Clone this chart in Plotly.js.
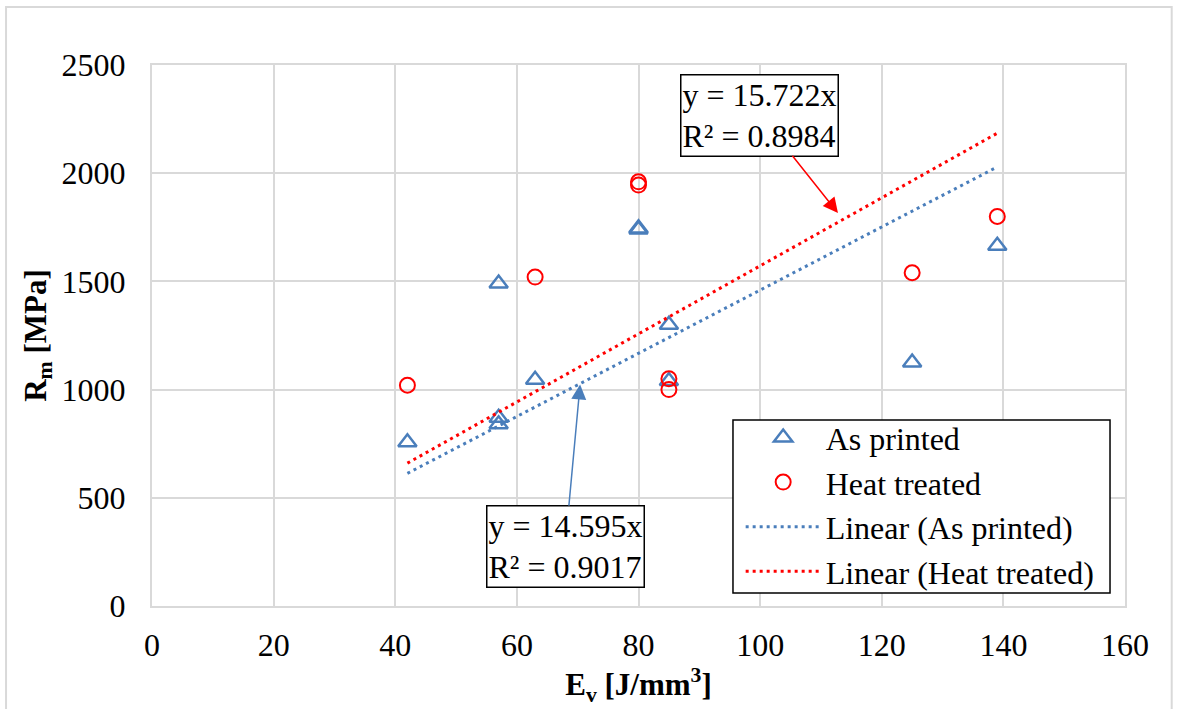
<!DOCTYPE html>
<html>
<head>
<meta charset="utf-8">
<script src="https://cdn.plot.ly/plotly-3.0.1.min.js"></script>
<style>html,body{margin:0;padding:0;background:#fff;}#chart{width:1179px;height:709px;}</style>
</head>
<body>
<div id="chart"></div>
<script>
// As printed
const apX = [42, 57, 57, 57, 63, 80, 80, 85, 85, 125, 139];
const apY = [757, 1490, 870, 840, 1045, 1745, 1740, 1300, 1040, 1125, 1665];
// Heat treated
const htX = [42, 63, 80, 80, 85, 85, 125, 139];
const htY = [1020, 1520, 1960, 1945, 1050, 1000, 1540, 1800];
// Linear trendlines (through origin), endpoints
const trendX = [42, 139];
const trendAP = [613, 2029];
const trendHT = [660, 2185];
const eqAP = 'y = 14.595x<br>R² = 0.9017';
const eqHT = 'y = 15.722x<br>R² = 0.8984';

const FONT = 'Liberation Serif, Times New Roman, serif';
const BLUE = '#4a7ebb';
const RED = '#ff0000';

const traces = [
  {x: apX, y: apY, type: 'scatter', mode: 'markers', name: 'As printed', legendgroup: 'a',
   marker: {symbol: 'triangle-up-open', size: 16, color: BLUE, line: {width: 2.5, color: BLUE}}},
  {x: htX, y: htY, type: 'scatter', mode: 'markers', name: 'Heat treated', legendgroup: 'b',
   marker: {symbol: 'circle-open', size: 15, color: RED, line: {width: 2, color: RED}}},
  {x: trendX, y: trendAP, type: 'scatter', mode: 'lines', name: 'Linear (As printed)', legendgroup: 'c',
   line: {color: BLUE, width: 3, dash: '3px,4px'}},
  {x: trendX, y: trendHT, type: 'scatter', mode: 'lines', name: 'Linear (Heat treated)', legendgroup: 'd',
   line: {color: RED, width: 3, dash: '3px,4px'}}
];

const axisCommon = {
  showgrid: true, gridcolor: '#d9d9d9', gridwidth: 2,
  zeroline: false, showline: true, linecolor: '#d9d9d9', linewidth: 2, mirror: true,
  ticks: 'outside', ticklen: 18, tickcolor: 'rgba(0,0,0,0)',
  tickfont: {family: FONT, size: 32, color: '#000'}
};

const layout = {
  width: 1179, height: 709,
  margin: {l: 152, r: 54, t: 65, b: 103},
  paper_bgcolor: '#fff', plot_bgcolor: '#fff',
  font: {family: FONT, color: '#000'},
  xaxis: Object.assign({}, axisCommon, {
    range: [0, 160], dtick: 20, tick0: 0, ticklen: 10,
    title: {text: '<b>E<sub>v</sub> [J/mm<sup>3</sup>]</b>', font: {family: FONT, size: 31, color: '#000'}, standoff: 11}
  }),
  yaxis: Object.assign({}, axisCommon, {
    range: [0, 2500], dtick: 500, tick0: 0,
    title: {text: '<b>R<sub>m</sub> [MPa]</b>', font: {family: FONT, size: 31, color: '#000'}, standoff: 6}
  }),
  showlegend: true,
  legend: {
    x: 0.605, y: 0.362, xanchor: 'left', yanchor: 'top',
    bgcolor: 'rgba(0,0,0,0)', borderwidth: 0,
    font: {family: FONT, size: 32, color: '#000'},
    tracegroupgap: 0, itemwidth: 75
  },
  annotations: [
    {x: 70.4, y: 1024, xref: 'x', yref: 'y', text: eqAP, showarrow: true,
     ax: -15, ay: 162, arrowhead: 2, arrowsize: 2, arrowwidth: 1.5, arrowcolor: BLUE,
     align: 'left', font: {family: FONT, size: 32, color: '#000'},
     bgcolor: '#fff', bordercolor: '#000', borderwidth: 1.5, borderpad: 1},
    {x: 112.8, y: 1816, xref: 'x', yref: 'y', text: eqHT, showarrow: true,
     ax: -78, ay: -98, arrowhead: 2, arrowsize: 2, arrowwidth: 1.5, arrowcolor: RED,
     align: 'left', font: {family: FONT, size: 32, color: '#000'},
     bgcolor: '#fff', bordercolor: '#000', borderwidth: 1.5, borderpad: 1}
  ],
  shapes: [
    {type: 'rect', xref: 'paper', yref: 'paper', x0: -0.150, x1: 1.048, y0: -0.2, y1: 1.107,
     line: {color: '#d9d9d9', width: 2}, fillcolor: 'rgba(0,0,0,0)', layer: 'below'},
    // legend frame
    {type: 'rect', xref: 'paper', yref: 'paper', x0: 0.5971, x1: 0.9846, y0: 0.0240, y1: 0.3438,
     line: {color: '#000', width: 1.5}, fillcolor: '#fff', layer: 'above'}
  ]
};

Plotly.newPlot('chart', traces, layout, {displayModeBar: false, staticPlot: true});
</script>
</body>
</html>
